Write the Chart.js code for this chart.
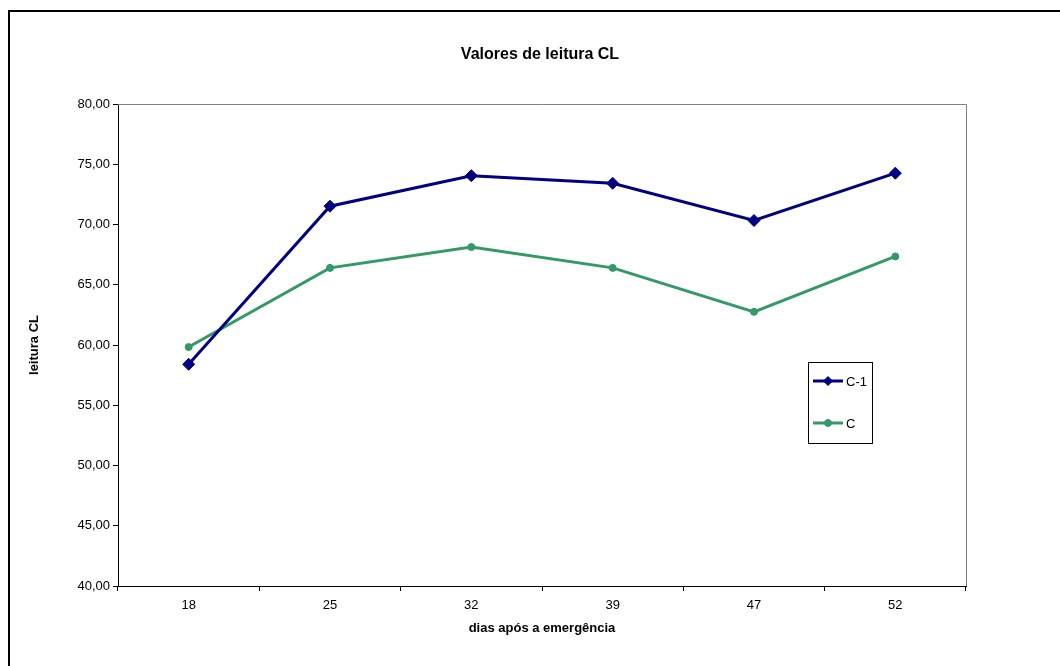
<!DOCTYPE html>
<html>
<head>
<meta charset="utf-8">
<script src="https://cdn.jsdelivr.net/npm/chart.js@4/dist/chart.umd.min.js"></script>
<style>
  html, body { margin: 0; padding: 0; background: #fff; }
  #wrap { width: 1060px; height: 666px; position: relative; }
</style>
</head>
<body>
<div id="wrap"><canvas id="c" width="1060" height="666"></canvas></div>
<script>
// Days after emergence and CL readings for the two treatments
const dias = ['18', '25', '32', '39', '47', '52'];
const serieC1 = [58.40, 71.52, 74.05, 73.42, 70.33, 74.26];
const serieC = [59.83, 66.40, 68.13, 66.40, 62.75, 67.35];
const yTicks = [40, 45, 50, 55, 60, 65, 70, 75, 80];

const FONT = 'Liberation Sans, Arial, sans-serif';
const fmt = v => v.toFixed(2).replace('.', ',');

// Frame, title, grey plot border and boxed legend
const decor = {
  id: 'decor',
  beforeDraw(chart) {
    const ctx = chart.ctx;
    ctx.save();
    ctx.fillStyle = '#fff';
    ctx.fillRect(0, 0, chart.width, chart.height);
    ctx.strokeStyle = '#000';
    ctx.lineWidth = 2;
    ctx.beginPath();
    ctx.moveTo(9, chart.height);
    ctx.lineTo(9, 11);
    ctx.lineTo(chart.width, 11);
    ctx.stroke();
    ctx.restore();
  },
  afterDraw(chart) {
    const ctx = chart.ctx;
    const a = chart.chartArea;
    ctx.save();
    // plot area border (top and right)
    ctx.strokeStyle = '#808080';
    ctx.lineWidth = 1;
    ctx.beginPath();
    ctx.moveTo(a.left, a.top + 0.5);
    ctx.lineTo(a.right + 0.5, a.top + 0.5);
    ctx.lineTo(a.right + 0.5, a.bottom);
    ctx.stroke();

    // title
    ctx.fillStyle = '#000';
    ctx.font = 'bold 16px ' + FONT;
    ctx.textAlign = 'center';
    ctx.textBaseline = 'middle';
    ctx.fillText('Valores de leitura CL', 540, 55);

    // legend
    const lx = a.right - 158, ly = a.top + 258, lw = 64, lh = 81;
    ctx.fillStyle = '#fff';
    ctx.fillRect(lx, ly, lw, lh);
    ctx.strokeStyle = '#000';
    ctx.lineWidth = 1;
    ctx.strokeRect(lx + 0.5, ly + 0.5, lw, lh);
    chart.data.datasets.forEach((ds, i) => {
      const y = ly + 19 + i * 42;
      ctx.strokeStyle = ds.borderColor;
      ctx.lineWidth = ds.borderWidth;
      ctx.beginPath();
      ctx.moveTo(lx + 5, y);
      ctx.lineTo(lx + 35, y);
      ctx.stroke();
      ctx.fillStyle = ds.backgroundColor;
      ctx.strokeStyle = ds.borderColor;
      ctx.lineWidth = 1;
      Chart.helpers.drawPoint(ctx, {
        pointStyle: ds.pointStyle,
        radius: ds.pointStyle === 'rectRot' ? 4.5 : 3.5,
        rotation: 0,
        borderWidth: 1
      }, lx + 20, y);
      ctx.fillStyle = '#000';
      ctx.font = '13px ' + FONT;
      ctx.textAlign = 'left';
      ctx.textBaseline = 'middle';
      ctx.fillText(ds.label, lx + 38, y + 1);
    });
    ctx.restore();
  }
};

new Chart(document.getElementById('c'), {
  type: 'line',
  data: {
    labels: dias,
    datasets: [
      {
        label: 'C-1',
        data: serieC1,
        borderColor: '#000080',
        backgroundColor: '#000080',
        borderWidth: 3,
        pointStyle: 'rectRot',
        pointRadius: 6,
        pointBorderWidth: 1,
        tension: 0
      },
      {
        label: 'C',
        data: serieC,
        borderColor: '#339966',
        backgroundColor: '#339966',
        borderWidth: 3,
        pointStyle: 'circle',
        pointRadius: 3.5,
        pointBorderWidth: 1,
        tension: 0
      }
    ]
  },
  options: {
    responsive: false,
    animation: false,
    devicePixelRatio: 1,
    layout: { padding: { top: 104, left: 23, right: 94, bottom: 26 } },
    plugins: { legend: { display: false }, title: { display: false }, tooltip: { enabled: false } },
    scales: {
      x: {
        offset: true,
        grid: { offset: true, drawOnChartArea: false, drawTicks: true, tickLength: 5, tickColor: '#000' },
        border: { color: '#000', width: 1 },
        ticks: { color: '#000', font: { family: FONT, size: 13 }, padding: 7, maxRotation: 0 },
        title: { display: true, text: 'dias após a emergência', color: '#000', font: { family: FONT, size: 13, weight: 'bold' } },
        afterFit(s) { s.height = 54; }
      },
      y: {
        min: 40,
        max: 80,
        afterBuildTicks(s) { s.ticks = yTicks.map(v => ({ value: v })); },
        grid: { drawOnChartArea: false, drawTicks: true, tickLength: 5, tickColor: '#000' },
        border: { color: '#000', width: 1 },
        ticks: { color: '#000', font: { family: FONT, size: 13 }, padding: 3, callback: v => fmt(v) },
        title: { display: true, text: 'leitura CL', color: '#000', font: { family: FONT, size: 13, weight: 'bold' } },
        afterFit(s) { s.width = 95; }
      }
    }
  },
  plugins: [decor]
});
</script>
</body>
</html>
